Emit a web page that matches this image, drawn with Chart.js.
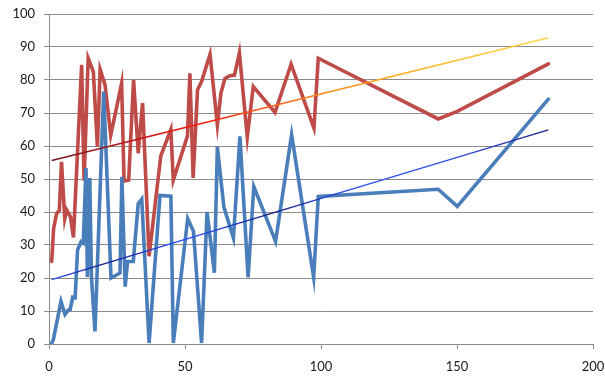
<!DOCTYPE html>
<html>
<head>
<meta charset="utf-8">
<script src="https://cdn.jsdelivr.net/npm/chart.js@4.4.1/dist/chart.umd.min.js"></script>
<style>
  html, body { margin: 0; padding: 0; background: #ffffff; }
  #wrap { width: 605px; height: 376px; position: relative; }
</style>
</head>
<body>
<div id="wrap"><canvas id="c" width="605" height="376"></canvas></div>
<script>
// Red series
const redX = [1, 1.7, 2.8, 3.8, 4.6, 5.8, 6.5, 7.9, 9.0, 12.0, 12.9, 14.4, 16.3, 17.8, 18.8, 20.6, 22.7,
  26.7, 27.6, 29.3, 31.1, 32.8, 34.4, 36.8, 41.1, 44.8, 45.7, 50.9, 51.8, 53.0, 54.6, 56.1, 59.2,
  61.9, 63.2, 64.7, 66.5, 68.2, 70.0, 72.9, 75.1, 83.1, 89.0, 97.4, 99.0, 143.1, 150.1, 183.6];
const redY = [25.0, 35.0, 39.5, 40.5, 55.2, 38.0, 40.6, 38.5, 32.3, 84.6, 49.5, 86.6, 82.5, 59.8, 83.2, 78.5, 63.3,
  79.0, 49.4, 49.7, 80.0, 57.8, 73.0, 26.6, 57.0, 65.0, 49.7, 63.0, 82.0, 50.3, 77.0, 79.5, 87.8,
  66.4, 76.0, 80.5, 81.3, 81.5, 88.3, 62.7, 78.0, 70.2, 84.8, 65.4, 86.6, 68.2, 70.5, 84.9];

// Blue series
const blueX = [1, 1.6, 4.4, 5.9, 7.2, 7.8, 8.7, 9.6, 10.5, 11.8, 12.6, 13.6, 14.1, 15.0, 15.6, 16.9, 20.1,
  22.8, 26.1, 26.8, 28.0, 28.9, 31.0, 32.8, 34.1, 36.8, 40.8, 44.8, 45.7, 51.0, 53.1, 56.1, 58.1,
  60.8, 61.9, 64.3, 67.8, 70.2, 73.2, 75.3, 83.3, 89.2, 97.3, 99.0, 143.1, 150.1, 183.6];
const blueY = [0.3, 1.3, 12.9, 9.0, 10.4, 10.5, 14.2, 14.0, 28.5, 31.0, 30.6, 53.3, 20.3, 50.3, 20.5, 3.8, 76.5,
  20.0, 21.5, 50.7, 17.4, 25.0, 25.0, 42.5, 43.9, 0.3, 45.0, 44.8, 0.3, 38.0, 34.2, 0.3, 40.0,
  21.6, 59.7, 41.5, 32.1, 62.9, 20.2, 47.7, 31.1, 63.4, 20.2, 44.7, 46.9, 41.7, 74.2];

// Linear trend lines (end points)
const trendX = [1, 183.6];
const redTrendY = [55.6, 92.8];
const blueTrendY = [19.5, 64.9];

// Axis ticks
const xTicks = [0, 50, 100, 150, 200];
const yTicks = [0, 10, 20, 30, 40, 50, 60, 70, 80, 90, 100];

const pts = (xs, ys) => xs.map((x, i) => ({ x: x, y: ys[i] }));

// Gradient stroke running along a trend line
function trendGradient(stops) {
  return function (ctx) {
    const chart = ctx.chart;
    const xs = chart.scales.x, ys = chart.scales.y;
    if (!xs || !ys || !chart.chartArea) return stops[0][1];
    const ds = ctx.dataset.data;
    const x0 = xs.getPixelForValue(ds[0].x), y0 = ys.getPixelForValue(ds[0].y);
    const x1 = xs.getPixelForValue(ds[1].x), y1 = ys.getPixelForValue(ds[1].y);
    if (!isFinite(x0) || !isFinite(x1)) return stops[0][1];
    const g = chart.ctx.createLinearGradient(x0, y0, x1, y1);
    stops.forEach(s => g.addColorStop(s[0], s[1]));
    return g;
  };
}

const gridColor = '#8c8c8c';
const font = { family: 'Lato, "Open Sans", sans-serif', size: 13 };

new Chart(document.getElementById('c'), {
  type: 'scatter',
  data: {
    datasets: [
      {
        data: pts(trendX, redTrendY), showLine: true, order: 0,
        borderWidth: 1.4, pointRadius: 0,
        borderColor: trendGradient([[0, '#6e1414'], [0.1, '#9a1818'], [0.2, '#d01010'], [0.3, '#ff1a0a'],
          [0.42, '#ff5a1a'], [0.56, '#ff8c1a'], [0.7, '#ffad1a'], [1, '#ffd84a']])
      },
      {
        data: pts(trendX, blueTrendY), showLine: true, order: 0,
        borderWidth: 1.4, pointRadius: 0,
        borderColor: trendGradient([[0, '#3050f0'], [0.1, '#142090'], [0.28, '#2850ff'], [0.44, '#101a80'],
          [0.6, '#2a50f0'], [0.8, '#3050e0'], [1, '#18208a']])
      },
      {
        data: pts(blueX, blueY), showLine: true, order: 1,
        borderColor: '#4a7ebb', borderWidth: 3.6, pointRadius: 0, tension: 0,
        borderJoinStyle: 'miter', borderCapStyle: 'round'
      },
      {
        data: pts(redX, redY), showLine: true, order: 2,
        borderColor: '#be4b48', borderWidth: 3.6, pointRadius: 0, tension: 0,
        borderJoinStyle: 'miter', borderCapStyle: 'round'
      }
    ]
  },
  options: {
    responsive: false,
    animation: false,
    layout: { padding: { left: 0, right: 12, top: 14, bottom: 0 } },
    plugins: { legend: { display: false }, tooltip: { enabled: false } },
    scales: {
      x: {
        type: 'linear', min: 0, max: 200,
        afterBuildTicks: s => { s.ticks = xTicks.map(v => ({ value: v })); },
        afterFit: s => { s.height = 32; s.paddingLeft = 0; s.paddingRight = 0; },
        grid: { drawOnChartArea: false, drawTicks: true, tickLength: 5, color: gridColor },
        border: { display: true, color: gridColor, width: 1 },
        ticks: { color: '#1a1a1a', font: font, padding: 10, maxRotation: 0 }
      },
      y: {
        type: 'linear', min: 0, max: 100,
        afterBuildTicks: s => { s.ticks = yTicks.map(v => ({ value: v })); },
        afterFit: s => { s.width = 49; s.paddingTop = 0; s.paddingBottom = 0; },
        grid: { drawOnChartArea: true, drawTicks: true, tickLength: 5, color: gridColor },
        border: { display: true, color: gridColor, width: 1 },
        ticks: { color: '#1a1a1a', font: font, padding: 9 }
      }
    }
  }
});
</script>
</body>
</html>
